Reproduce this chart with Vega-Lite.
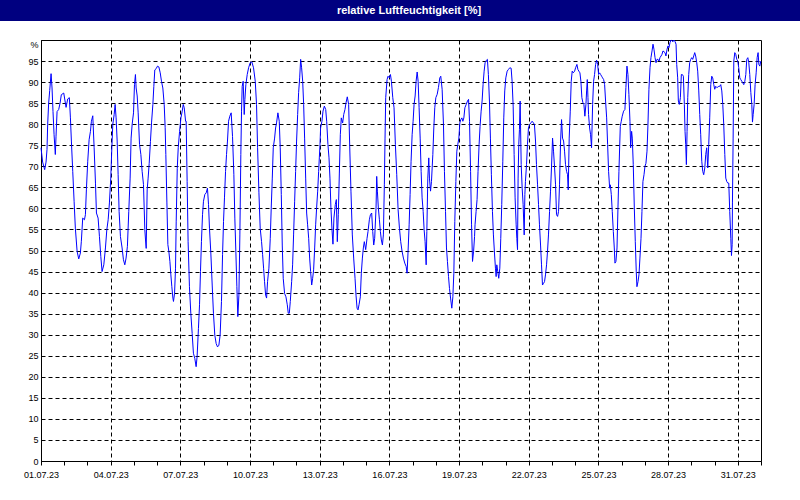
{
 "$schema": "https://vega.github.io/schema/vega-lite/v6.json",
 "background": "white",
 "padding": 0,
 "spacing": 16,
 "config": {"font": "Liberation Sans"},
 "vconcat": [
  {
   "width": 800, "height": 21,
   "view": {"fill": "#000080", "stroke": null},
   "data": {"values": [{}]},
   "mark": {"type": "text", "color": "white", "font": "Liberation Sans", "fontSize": 11, "fontWeight": "bold", "baseline": "middle", "align": "center", "dx": 9},
   "encoding": {"text": {"value": "relative Luftfeuchtigkeit [%]"}}
  },
  {
   "spacing": 0,
   "hconcat": [
    {
     "width": 1, "height": 421,
     "view": {"fill": null, "stroke": null},
     "data": {"values": [{}]},
     "mark": {"type": "text"},
     "encoding": {"text": {"value": ""}}
    },
    {
     "width": 720, "height": 421,
     "view": {"fill": "white", "stroke": "black", "strokeWidth": 1},
     "data": {"values": [
{"t":"2023-07-01T00:00","v":74.4},{"t":"2023-07-01T01:42","v":71},{"t":"2023-07-01T03:48","v":69.2},{"t":"2023-07-01T05:12","v":71},{"t":"2023-07-01T06:12","v":74},{"t":"2023-07-01T06:54","v":80},{"t":"2023-07-01T07:54","v":85},{"t":"2023-07-01T09:00","v":88},{"t":"2023-07-01T10:24","v":92},{"t":"2023-07-01T11:24","v":88.6},{"t":"2023-07-01T12:24","v":83},{"t":"2023-07-01T13:30","v":77.5},{"t":"2023-07-01T14:48","v":72.8},{"t":"2023-07-01T15:30","v":77},{"t":"2023-07-01T16:36","v":83},{"t":"2023-07-01T18:18","v":83.5},{"t":"2023-07-01T19:42","v":85},{"t":"2023-07-01T21:00","v":87},{"t":"2023-07-01T23:30","v":87.4},
{"t":"2023-07-02T01:12","v":85},{"t":"2023-07-02T01:54","v":84},{"t":"2023-07-02T03:36","v":86},{"t":"2023-07-02T05:18","v":86.3},{"t":"2023-07-02T06:24","v":81.5},{"t":"2023-07-02T07:24","v":76},{"t":"2023-07-02T08:48","v":68.8},{"t":"2023-07-02T10:12","v":61.7},{"t":"2023-07-02T11:30","v":55.3},{"t":"2023-07-02T13:18","v":49.8},{"t":"2023-07-02T15:00","v":48},{"t":"2023-07-02T16:42","v":49.4},{"t":"2023-07-02T17:42","v":52.2},{"t":"2023-07-02T19:06","v":57.7},{"t":"2023-07-02T20:54","v":57.3},{"t":"2023-07-02T21:54","v":58.5},{"t":"2023-07-02T22:54","v":64.4},
{"t":"2023-07-03T00:18","v":71.2},{"t":"2023-07-03T01:42","v":76.3},{"t":"2023-07-03T03:06","v":78.3},{"t":"2023-07-03T04:06","v":80.7},{"t":"2023-07-03T05:30","v":82},{"t":"2023-07-03T06:54","v":74.4},{"t":"2023-07-03T08:18","v":66},{"t":"2023-07-03T09:18","v":58.9},{"t":"2023-07-03T11:00","v":57.7},{"t":"2023-07-03T12:24","v":53.3},{"t":"2023-07-03T13:48","v":48.6},{"t":"2023-07-03T15:06","v":45},{"t":"2023-07-03T16:54","v":46.6},{"t":"2023-07-03T18:36","v":50.6},{"t":"2023-07-03T20:00","v":54.9},{"t":"2023-07-03T21:24","v":57.3},{"t":"2023-07-03T22:42","v":61.3},
{"t":"2023-07-04T00:06","v":67.2},{"t":"2023-07-04T01:12","v":74.4},{"t":"2023-07-04T02:12","v":80},{"t":"2023-07-04T03:36","v":82.3},{"t":"2023-07-04T04:36","v":84.7},{"t":"2023-07-04T05:36","v":81.5},{"t":"2023-07-04T06:42","v":76},{"t":"2023-07-04T07:42","v":68},{"t":"2023-07-04T08:42","v":59.3},{"t":"2023-07-04T10:06","v":53.3},{"t":"2023-07-04T11:48","v":50.6},{"t":"2023-07-04T13:12","v":47.8},{"t":"2023-07-04T14:36","v":46.6},{"t":"2023-07-04T15:54","v":48.2},{"t":"2023-07-04T17:18","v":51},{"t":"2023-07-04T18:42","v":59.3},{"t":"2023-07-04T20:06","v":67.2},{"t":"2023-07-04T21:06","v":76.7},{"t":"2023-07-04T22:12","v":80},{"t":"2023-07-04T23:36","v":82.7},
{"t":"2023-07-05T00:36","v":89.4},{"t":"2023-07-05T01:36","v":91.8},{"t":"2023-07-05T02:18","v":88.6},{"t":"2023-07-05T03:24","v":86.7},{"t":"2023-07-05T04:24","v":82.7},{"t":"2023-07-05T05:48","v":75.2},{"t":"2023-07-05T07:12","v":72.8},{"t":"2023-07-05T08:30","v":68.8},{"t":"2023-07-05T09:54","v":65.7},{"t":"2023-07-05T11:18","v":54.9},{"t":"2023-07-05T12:00","v":52.5},{"t":"2023-07-05T12:42","v":50.5},{"t":"2023-07-05T13:42","v":64.4},{"t":"2023-07-05T14:42","v":67.2},{"t":"2023-07-05T15:48","v":70.7},{"t":"2023-07-05T17:06","v":75.9},{"t":"2023-07-05T18:12","v":80.3},{"t":"2023-07-05T19:36","v":84.7},{"t":"2023-07-05T20:36","v":89},{"t":"2023-07-05T21:36","v":92.9},{"t":"2023-07-05T23:00","v":93.2},
{"t":"2023-07-06T00:24","v":93.8},{"t":"2023-07-06T01:48","v":93.6},{"t":"2023-07-06T03:12","v":92.2},{"t":"2023-07-06T04:30","v":90.2},{"t":"2023-07-06T05:54","v":88.6},{"t":"2023-07-06T07:18","v":84.7},{"t":"2023-07-06T08:18","v":79.2},{"t":"2023-07-06T09:00","v":72.8},{"t":"2023-07-06T10:06","v":61.3},{"t":"2023-07-06T11:06","v":51.4},{"t":"2023-07-06T12:06","v":49.8},{"t":"2023-07-06T13:12","v":47.4},{"t":"2023-07-06T14:12","v":44.2},{"t":"2023-07-06T15:12","v":41.4},{"t":"2023-07-06T16:18","v":38.7},{"t":"2023-07-06T16:54","v":37.9},{"t":"2023-07-06T18:00","v":39.8},{"t":"2023-07-06T19:00","v":45.8},{"t":"2023-07-06T19:42","v":56.8},{"t":"2023-07-06T20:48","v":69.5},{"t":"2023-07-06T21:48","v":74.4},{"t":"2023-07-06T23:12","v":78.3},
{"t":"2023-07-07T00:36","v":81.5},{"t":"2023-07-07T01:54","v":83.1},{"t":"2023-07-07T03:00","v":84.7},{"t":"2023-07-07T04:00","v":83.9},{"t":"2023-07-07T05:24","v":80.7},{"t":"2023-07-07T06:00","v":80.7},{"t":"2023-07-07T07:00","v":66.4},{"t":"2023-07-07T08:00","v":52.1},{"t":"2023-07-07T09:24","v":41.4},{"t":"2023-07-07T10:48","v":35.1},{"t":"2023-07-07T12:12","v":30.3},{"t":"2023-07-07T13:30","v":25.6},{"t":"2023-07-07T14:54","v":24.4},{"t":"2023-07-07T16:18","v":22.4},{"t":"2023-07-07T17:18","v":24.8},{"t":"2023-07-07T18:42","v":31.5},{"t":"2023-07-07T19:48","v":37.1},{"t":"2023-07-07T20:48","v":45},{"t":"2023-07-07T21:48","v":52.1},{"t":"2023-07-07T22:54","v":58.5},{"t":"2023-07-07T23:54","v":61.7},
{"t":"2023-07-08T01:18","v":63.3},{"t":"2023-07-08T02:42","v":63.7},{"t":"2023-07-08T04:00","v":64.8},{"t":"2023-07-08T05:06","v":60.9},{"t":"2023-07-08T06:06","v":55.3},{"t":"2023-07-08T07:30","v":49.4},{"t":"2023-07-08T08:54","v":41.8},{"t":"2023-07-08T10:12","v":35.1},{"t":"2023-07-08T11:36","v":29.9},{"t":"2023-07-08T13:00","v":27.9},{"t":"2023-07-08T14:24","v":27.1},{"t":"2023-07-08T15:48","v":27.5},{"t":"2023-07-08T17:06","v":29.9},{"t":"2023-07-08T18:30","v":37.9},{"t":"2023-07-08T19:36","v":49},{"t":"2023-07-08T20:36","v":56.9},{"t":"2023-07-08T21:36","v":62.5},{"t":"2023-07-08T22:42","v":68.8},{"t":"2023-07-08T23:42","v":72.8},
{"t":"2023-07-09T00:42","v":76},{"t":"2023-07-09T01:48","v":80.7},{"t":"2023-07-09T03:06","v":81.9},{"t":"2023-07-09T04:30","v":82.7},{"t":"2023-07-09T05:54","v":77.1},{"t":"2023-07-09T07:18","v":68},{"t":"2023-07-09T08:18","v":57.7},{"t":"2023-07-09T09:24","v":49.4},{"t":"2023-07-09T10:24","v":41.4},{"t":"2023-07-09T11:24","v":34.3},{"t":"2023-07-09T12:30","v":39.4},{"t":"2023-07-09T13:30","v":53.7},{"t":"2023-07-09T14:30","v":72.8},{"t":"2023-07-09T15:12","v":83.1},{"t":"2023-07-09T15:54","v":89},{"t":"2023-07-09T16:54","v":90.2},{"t":"2023-07-09T18:00","v":82.3},{"t":"2023-07-09T18:42","v":85.9},{"t":"2023-07-09T19:42","v":89.4},{"t":"2023-07-09T21:06","v":91.8},{"t":"2023-07-09T22:30","v":93.4},
{"t":"2023-07-10T00:12","v":94.6},{"t":"2023-07-10T01:54","v":94.8},{"t":"2023-07-10T03:36","v":93.4},{"t":"2023-07-10T05:24","v":90.2},{"t":"2023-07-10T06:42","v":84.7},{"t":"2023-07-10T07:48","v":74.4},{"t":"2023-07-10T09:12","v":63.7},{"t":"2023-07-10T10:30","v":55.3},{"t":"2023-07-10T11:54","v":52.1},{"t":"2023-07-10T13:00","v":49},{"t":"2023-07-10T14:00","v":45.8},{"t":"2023-07-10T15:00","v":42.6},{"t":"2023-07-10T16:06","v":39.4},{"t":"2023-07-10T17:06","v":38.7},{"t":"2023-07-10T18:06","v":42.6},{"t":"2023-07-10T19:30","v":45.8},{"t":"2023-07-10T20:54","v":52.9},{"t":"2023-07-10T21:54","v":60.1},{"t":"2023-07-10T23:00","v":67.2},
{"t":"2023-07-11T00:00","v":74.4},{"t":"2023-07-11T01:24","v":76.7},{"t":"2023-07-11T02:24","v":79.1},{"t":"2023-07-11T03:24","v":80.3},{"t":"2023-07-11T04:48","v":82.7},{"t":"2023-07-11T06:12","v":80.7},{"t":"2023-07-11T07:12","v":74.4},{"t":"2023-07-11T08:18","v":63.3},{"t":"2023-07-11T09:18","v":51.3},{"t":"2023-07-11T10:18","v":43.4},{"t":"2023-07-11T11:42","v":39.8},{"t":"2023-07-11T13:06","v":39},{"t":"2023-07-11T14:30","v":37.1},{"t":"2023-07-11T15:30","v":35.1},{"t":"2023-07-11T16:36","v":35.1},{"t":"2023-07-11T17:36","v":37.9},{"t":"2023-07-11T19:00","v":42.6},{"t":"2023-07-11T20:00","v":46.6},{"t":"2023-07-11T21:00","v":53.7},{"t":"2023-07-11T22:06","v":61.7},{"t":"2023-07-11T23:06","v":68.8},
{"t":"2023-07-12T00:06","v":76},{"t":"2023-07-12T01:12","v":82.3},{"t":"2023-07-12T02:12","v":87.5},{"t":"2023-07-12T03:18","v":91},{"t":"2023-07-12T04:18","v":95.4},{"t":"2023-07-12T05:18","v":93.4},{"t":"2023-07-12T06:24","v":90.2},{"t":"2023-07-12T07:24","v":84.7},{"t":"2023-07-12T08:24","v":76.7},{"t":"2023-07-12T09:30","v":67.2},{"t":"2023-07-12T10:30","v":58.9},{"t":"2023-07-12T11:30","v":56.1},{"t":"2023-07-12T12:36","v":52.9},{"t":"2023-07-12T13:36","v":48.2},{"t":"2023-07-12T14:36","v":45},{"t":"2023-07-12T15:42","v":41.8},{"t":"2023-07-12T16:42","v":43.4},{"t":"2023-07-12T17:42","v":45.4},{"t":"2023-07-12T18:48","v":50.6},{"t":"2023-07-12T19:48","v":56.1},{"t":"2023-07-12T20:48","v":60.1},{"t":"2023-07-12T21:54","v":64.1},{"t":"2023-07-12T22:54","v":68.8},{"t":"2023-07-12T23:36","v":72},
{"t":"2023-07-13T00:18","v":75.2},{"t":"2023-07-13T00:54","v":79.1},{"t":"2023-07-13T02:18","v":80.7},{"t":"2023-07-13T03:24","v":83.1},{"t":"2023-07-13T04:48","v":84.3},{"t":"2023-07-13T06:12","v":83.5},{"t":"2023-07-13T07:12","v":80.7},{"t":"2023-07-13T08:30","v":75.2},{"t":"2023-07-13T09:36","v":72},{"t":"2023-07-13T10:36","v":67.2},{"t":"2023-07-13T11:36","v":60.1},{"t":"2023-07-13T12:42","v":54.9},{"t":"2023-07-13T13:42","v":51.5},{"t":"2023-07-13T14:42","v":57.7},{"t":"2023-07-13T16:06","v":60.9},{"t":"2023-07-13T17:12","v":62.1},{"t":"2023-07-13T18:12","v":52.1},{"t":"2023-07-13T19:12","v":58.5},{"t":"2023-07-13T20:18","v":68.4},{"t":"2023-07-13T21:18","v":77.5},{"t":"2023-07-13T22:18","v":81.5},{"t":"2023-07-13T23:42","v":80.3},
{"t":"2023-07-14T00:48","v":82.3},{"t":"2023-07-14T02:06","v":83.5},{"t":"2023-07-14T03:12","v":85.1},{"t":"2023-07-14T04:30","v":86.5},{"t":"2023-07-14T05:54","v":84.7},{"t":"2023-07-14T07:00","v":74.8},{"t":"2023-07-14T08:18","v":64.1},{"t":"2023-07-14T09:42","v":53.7},{"t":"2023-07-14T11:06","v":48.2},{"t":"2023-07-14T12:30","v":43.4},{"t":"2023-07-14T13:30","v":39.4},{"t":"2023-07-14T14:36","v":36.3},{"t":"2023-07-14T15:36","v":35.9},{"t":"2023-07-14T16:36","v":37.1},{"t":"2023-07-14T18:00","v":39},{"t":"2023-07-14T19:00","v":44.6},{"t":"2023-07-14T20:06","v":48.2},{"t":"2023-07-14T21:06","v":50.6},{"t":"2023-07-14T22:06","v":52.1},{"t":"2023-07-14T23:30","v":50.2},
{"t":"2023-07-15T00:54","v":52.9},{"t":"2023-07-15T01:54","v":54.5},{"t":"2023-07-15T03:18","v":57.3},{"t":"2023-07-15T04:24","v":58.5},{"t":"2023-07-15T05:42","v":58.9},{"t":"2023-07-15T06:48","v":54.5},{"t":"2023-07-15T07:48","v":51.3},{"t":"2023-07-15T08:48","v":52.9},{"t":"2023-07-15T10:12","v":60.1},{"t":"2023-07-15T10:54","v":67.6},{"t":"2023-07-15T11:36","v":64.1},{"t":"2023-07-15T12:36","v":60.1},{"t":"2023-07-15T13:42","v":57.3},{"t":"2023-07-15T14:42","v":54.5},{"t":"2023-07-15T15:42","v":52.5},{"t":"2023-07-15T16:48","v":51.3},{"t":"2023-07-15T17:48","v":53.7},{"t":"2023-07-15T18:48","v":65.6},{"t":"2023-07-15T19:30","v":76.7},{"t":"2023-07-15T20:12","v":86.3},{"t":"2023-07-15T21:36","v":90.6},{"t":"2023-07-15T22:36","v":91.4},
{"t":"2023-07-16T00:00","v":91},{"t":"2023-07-16T01:06","v":91.8},{"t":"2023-07-16T02:06","v":90.2},{"t":"2023-07-16T03:30","v":86.3},{"t":"2023-07-16T04:48","v":83.9},{"t":"2023-07-16T06:12","v":75.2},{"t":"2023-07-16T07:36","v":68},{"t":"2023-07-16T09:00","v":59.7},{"t":"2023-07-16T10:24","v":55.3},{"t":"2023-07-16T11:42","v":52.1},{"t":"2023-07-16T13:06","v":49.8},{"t":"2023-07-16T14:30","v":48.2},{"t":"2023-07-16T15:54","v":47},{"t":"2023-07-16T17:18","v":46.2},{"t":"2023-07-16T18:18","v":44.6},{"t":"2023-07-16T19:18","v":49.8},{"t":"2023-07-16T20:24","v":56.1},{"t":"2023-07-16T21:24","v":63.3},{"t":"2023-07-16T22:24","v":71.2},{"t":"2023-07-16T23:30","v":77.5},
{"t":"2023-07-17T00:30","v":80.7},{"t":"2023-07-17T01:30","v":84.7},{"t":"2023-07-17T02:36","v":86.7},{"t":"2023-07-17T03:36","v":90.2},{"t":"2023-07-17T04:42","v":92.4},{"t":"2023-07-17T05:42","v":90.2},{"t":"2023-07-17T06:42","v":83.9},{"t":"2023-07-17T07:48","v":76.7},{"t":"2023-07-17T08:48","v":68.8},{"t":"2023-07-17T09:48","v":62.5},{"t":"2023-07-17T10:54","v":59.3},{"t":"2023-07-17T11:54","v":54.9},{"t":"2023-07-17T12:54","v":52.1},{"t":"2023-07-17T14:00","v":46.6},{"t":"2023-07-17T14:42","v":54.5},{"t":"2023-07-17T15:42","v":67.2},{"t":"2023-07-17T16:42","v":72},{"t":"2023-07-17T17:24","v":67.2},{"t":"2023-07-17T18:30","v":64.1},{"t":"2023-07-17T19:30","v":66.4},{"t":"2023-07-17T20:54","v":72.8},{"t":"2023-07-17T21:54","v":79.1},{"t":"2023-07-17T22:54","v":83.9},
{"t":"2023-07-18T00:00","v":86.3},{"t":"2023-07-18T01:24","v":87.1},{"t":"2023-07-18T02:42","v":88.7},{"t":"2023-07-18T04:06","v":91},{"t":"2023-07-18T05:06","v":91.4},{"t":"2023-07-18T06:30","v":88.3},{"t":"2023-07-18T07:54","v":79.9},{"t":"2023-07-18T08:54","v":68.8},{"t":"2023-07-18T10:00","v":59.3},{"t":"2023-07-18T11:00","v":50.6},{"t":"2023-07-18T12:00","v":47.4},{"t":"2023-07-18T13:06","v":43.8},{"t":"2023-07-18T14:06","v":41},{"t":"2023-07-18T15:12","v":38.7},{"t":"2023-07-18T16:30","v":36.3},{"t":"2023-07-18T17:36","v":39},{"t":"2023-07-18T18:36","v":44.6},{"t":"2023-07-18T19:36","v":56.9},{"t":"2023-07-18T20:42","v":66.4},{"t":"2023-07-18T21:42","v":73.6},{"t":"2023-07-18T22:42","v":75.2},{"t":"2023-07-18T23:48","v":76.7},
{"t":"2023-07-19T00:48","v":80.3},{"t":"2023-07-19T01:48","v":81.1},{"t":"2023-07-19T02:54","v":81.5},{"t":"2023-07-19T03:54","v":80.7},{"t":"2023-07-19T04:57","v":81.5},{"t":"2023-07-19T06:00","v":83.9},{"t":"2023-07-19T07:24","v":84.7},{"t":"2023-07-19T08:42","v":85.5},{"t":"2023-07-19T09:48","v":85.9},{"t":"2023-07-19T10:48","v":80.7},{"t":"2023-07-19T11:54","v":68.8},{"t":"2023-07-19T12:54","v":56.1},{"t":"2023-07-19T13:54","v":47.4},{"t":"2023-07-19T15:00","v":49.8},{"t":"2023-07-19T16:00","v":53.3},{"t":"2023-07-19T16:30","v":56.1},{"t":"2023-07-19T17:36","v":59.3},{"t":"2023-07-19T18:36","v":62.1},{"t":"2023-07-19T19:36","v":68.8},{"t":"2023-07-19T20:42","v":75.2},{"t":"2023-07-19T21:42","v":79.5},{"t":"2023-07-19T22:48","v":83.1},{"t":"2023-07-19T23:48","v":85.5},
{"t":"2023-07-20T00:48","v":89.4},{"t":"2023-07-20T01:54","v":92.6},{"t":"2023-07-20T02:54","v":94.6},{"t":"2023-07-20T04:18","v":95.2},{"t":"2023-07-20T05:18","v":95.4},{"t":"2023-07-20T06:18","v":91.8},{"t":"2023-07-20T07:24","v":85.5},{"t":"2023-07-20T08:24","v":76.7},{"t":"2023-07-20T09:24","v":68},{"t":"2023-07-20T10:30","v":59.3},{"t":"2023-07-20T11:30","v":53.7},{"t":"2023-07-20T12:36","v":49.4},{"t":"2023-07-20T13:36","v":45.8},{"t":"2023-07-20T14:18","v":43.8},{"t":"2023-07-20T15:00","v":46.6},{"t":"2023-07-20T16:00","v":45},{"t":"2023-07-20T17:00","v":43.4},{"t":"2023-07-20T18:06","v":45.8},{"t":"2023-07-20T19:06","v":52.9},{"t":"2023-07-20T20:06","v":60.9},{"t":"2023-07-20T21:12","v":71.2},{"t":"2023-07-20T22:12","v":81.5},{"t":"2023-07-20T23:12","v":87.9},
{"t":"2023-07-21T00:18","v":91},{"t":"2023-07-21T01:42","v":92.6},{"t":"2023-07-21T03:00","v":93},{"t":"2023-07-21T04:24","v":93.4},{"t":"2023-07-21T05:48","v":93.3},{"t":"2023-07-21T06:48","v":90.2},{"t":"2023-07-21T07:54","v":84.3},{"t":"2023-07-21T08:54","v":72.8},{"t":"2023-07-21T09:54","v":62.5},{"t":"2023-07-21T11:00","v":56.1},{"t":"2023-07-21T11:42","v":52.9},{"t":"2023-07-21T12:24","v":50.2},{"t":"2023-07-21T13:00","v":67.2},{"t":"2023-07-21T13:42","v":75.2},{"t":"2023-07-21T14:24","v":78.7},{"t":"2023-07-21T15:06","v":85.5},{"t":"2023-07-21T16:12","v":70.4},{"t":"2023-07-21T17:12","v":64.8},{"t":"2023-07-21T18:12","v":60.9},{"t":"2023-07-21T19:18","v":53.7},{"t":"2023-07-21T20:00","v":63.3},{"t":"2023-07-21T20:36","v":66.4},{"t":"2023-07-21T21:42","v":70.4},{"t":"2023-07-21T22:42","v":75.2},{"t":"2023-07-21T23:42","v":79.1},
{"t":"2023-07-22T00:48","v":79.9},{"t":"2023-07-22T02:12","v":80.3},{"t":"2023-07-22T03:30","v":80.7},{"t":"2023-07-22T04:54","v":80.3},{"t":"2023-07-22T05:54","v":79.9},{"t":"2023-07-22T07:00","v":76},{"t":"2023-07-22T08:00","v":70.4},{"t":"2023-07-22T09:06","v":65.6},{"t":"2023-07-22T10:06","v":60.9},{"t":"2023-07-22T11:06","v":56.1},{"t":"2023-07-22T12:12","v":51.3},{"t":"2023-07-22T13:12","v":46.6},{"t":"2023-07-22T14:12","v":41.8},{"t":"2023-07-22T15:18","v":42.2},{"t":"2023-07-22T16:18","v":42.6},{"t":"2023-07-22T17:18","v":44.2},{"t":"2023-07-22T18:24","v":46.6},{"t":"2023-07-22T19:24","v":49.8},{"t":"2023-07-22T20:24","v":53.7},{"t":"2023-07-22T21:30","v":59.3},{"t":"2023-07-22T22:30","v":64.1},{"t":"2023-07-22T23:30","v":69.6},
{"t":"2023-07-23T00:36","v":76.7},{"t":"2023-07-23T01:36","v":73.6},{"t":"2023-07-23T02:42","v":69.6},{"t":"2023-07-23T03:42","v":65.6},{"t":"2023-07-23T04:42","v":58.5},{"t":"2023-07-23T05:48","v":58.1},{"t":"2023-07-23T06:48","v":59.3},{"t":"2023-07-23T07:48","v":65.6},{"t":"2023-07-23T08:54","v":76},{"t":"2023-07-23T09:54","v":81.1},{"t":"2023-07-23T10:54","v":76.7},{"t":"2023-07-23T12:00","v":76},{"t":"2023-07-23T13:00","v":73.6},{"t":"2023-07-23T14:00","v":70.4},{"t":"2023-07-23T15:06","v":68.8},{"t":"2023-07-23T16:06","v":68},{"t":"2023-07-23T16:48","v":64.4},{"t":"2023-07-23T17:48","v":76.7},{"t":"2023-07-23T18:54","v":83.1},{"t":"2023-07-23T19:54","v":90.2},{"t":"2023-07-23T20:54","v":92.6},{"t":"2023-07-23T22:00","v":92.2},{"t":"2023-07-23T23:24","v":92.6},
{"t":"2023-07-24T00:24","v":93.4},{"t":"2023-07-24T01:48","v":94.2},{"t":"2023-07-24T02:48","v":93},{"t":"2023-07-24T03:48","v":92.6},{"t":"2023-07-24T04:54","v":92.2},{"t":"2023-07-24T05:54","v":90.2},{"t":"2023-07-24T06:54","v":86.3},{"t":"2023-07-24T08:00","v":85.1},{"t":"2023-07-24T09:00","v":84.7},{"t":"2023-07-24T10:00","v":81.9},{"t":"2023-07-24T11:06","v":84.7},{"t":"2023-07-24T11:48","v":87.9},{"t":"2023-07-24T12:30","v":90.6},{"t":"2023-07-24T13:12","v":86.3},{"t":"2023-07-24T13:48","v":82.3},{"t":"2023-07-24T14:54","v":79.1},{"t":"2023-07-24T15:54","v":77.5},{"t":"2023-07-24T16:54","v":74.4},{"t":"2023-07-24T18:00","v":84.7},{"t":"2023-07-24T19:00","v":90.2},{"t":"2023-07-24T20:00","v":91.8},{"t":"2023-07-24T21:06","v":94.2},{"t":"2023-07-24T22:06","v":95.2},{"t":"2023-07-24T23:12","v":94.2},
{"t":"2023-07-25T00:12","v":91.8},{"t":"2023-07-25T01:12","v":92.2},{"t":"2023-07-25T02:18","v":91.8},{"t":"2023-07-25T03:18","v":91.4},{"t":"2023-07-25T04:18","v":91},{"t":"2023-07-25T05:24","v":90.6},{"t":"2023-07-25T06:24","v":89.4},{"t":"2023-07-25T07:24","v":85.5},{"t":"2023-07-25T08:30","v":81.5},{"t":"2023-07-25T09:30","v":75.2},{"t":"2023-07-25T10:30","v":68.8},{"t":"2023-07-25T11:36","v":64.8},{"t":"2023-07-25T12:18","v":65.6},{"t":"2023-07-25T13:18","v":63.3},{"t":"2023-07-25T14:18","v":59.3},{"t":"2023-07-25T15:24","v":54.5},{"t":"2023-07-25T16:24","v":50.6},{"t":"2023-07-25T17:06","v":47},{"t":"2023-07-25T18:06","v":47.4},{"t":"2023-07-25T19:12","v":50.6},{"t":"2023-07-25T20:12","v":60.1},{"t":"2023-07-25T21:12","v":68.8},{"t":"2023-07-25T22:36","v":79.5},{"t":"2023-07-25T23:36","v":80.7},
{"t":"2023-07-26T00:36","v":81.9},{"t":"2023-07-26T02:00","v":83.1},{"t":"2023-07-26T03:24","v":83.5},{"t":"2023-07-26T04:24","v":88.7},{"t":"2023-07-26T05:30","v":93.8},{"t":"2023-07-26T06:30","v":91.8},{"t":"2023-07-26T07:30","v":87.1},{"t":"2023-07-26T08:36","v":80.7},{"t":"2023-07-26T09:18","v":74.4},{"t":"2023-07-26T10:18","v":78.3},{"t":"2023-07-26T11:00","v":76.7},{"t":"2023-07-26T12:00","v":70.4},{"t":"2023-07-26T13:06","v":60.1},{"t":"2023-07-26T14:06","v":52.1},{"t":"2023-07-26T15:06","v":45},{"t":"2023-07-26T15:48","v":41.4},{"t":"2023-07-26T16:54","v":42.6},{"t":"2023-07-26T17:54","v":44.2},{"t":"2023-07-26T18:54","v":48.2},{"t":"2023-07-26T20:00","v":52.9},{"t":"2023-07-26T21:00","v":59.3},{"t":"2023-07-26T22:00","v":66.4},{"t":"2023-07-26T23:06","v":68},
{"t":"2023-07-27T00:06","v":70},{"t":"2023-07-27T01:06","v":70.7},{"t":"2023-07-27T02:12","v":73.6},{"t":"2023-07-27T03:12","v":79.9},{"t":"2023-07-27T04:12","v":88.3},{"t":"2023-07-27T05:18","v":93.4},{"t":"2023-07-27T06:18","v":95.8},{"t":"2023-07-27T07:24","v":97.4},{"t":"2023-07-27T08:24","v":99},{"t":"2023-07-27T09:24","v":97.8},{"t":"2023-07-27T10:30","v":95.8},{"t":"2023-07-27T11:30","v":94.6},{"t":"2023-07-27T12:30","v":95.4},{"t":"2023-07-27T13:36","v":95.4},{"t":"2023-07-27T14:36","v":95},{"t":"2023-07-27T15:36","v":95.8},{"t":"2023-07-27T16:42","v":96.2},{"t":"2023-07-27T17:42","v":96.6},{"t":"2023-07-27T18:42","v":97.4},{"t":"2023-07-27T19:48","v":97.2},{"t":"2023-07-27T20:48","v":97},{"t":"2023-07-27T21:48","v":96.2},{"t":"2023-07-27T22:54","v":97.8},{"t":"2023-07-27T23:54","v":98.6},
{"t":"2023-07-28T00:54","v":98.2},{"t":"2023-07-28T02:00","v":99.4},{"t":"2023-07-28T03:00","v":100},{"t":"2023-07-28T04:00","v":99.8},{"t":"2023-07-28T05:06","v":99.6},{"t":"2023-07-28T06:06","v":100},{"t":"2023-07-28T07:12","v":99.6},{"t":"2023-07-28T08:12","v":99},{"t":"2023-07-28T08:54","v":94.2},{"t":"2023-07-28T09:54","v":91},{"t":"2023-07-28T10:36","v":85.5},{"t":"2023-07-28T11:36","v":84.7},{"t":"2023-07-28T12:42","v":86.3},{"t":"2023-07-28T13:42","v":91.8},{"t":"2023-07-28T14:42","v":91.8},{"t":"2023-07-28T15:48","v":91.4},{"t":"2023-07-28T16:48","v":84.7},{"t":"2023-07-28T17:30","v":78.3},{"t":"2023-07-28T18:12","v":75.2},{"t":"2023-07-28T18:54","v":70.4},{"t":"2023-07-28T19:36","v":78.3},{"t":"2023-07-28T20:18","v":86.3},{"t":"2023-07-28T21:18","v":91.8},{"t":"2023-07-28T22:18","v":94.6},{"t":"2023-07-28T23:24","v":95.4},
{"t":"2023-07-29T00:24","v":95.8},{"t":"2023-07-29T01:24","v":95.4},{"t":"2023-07-29T02:30","v":96.2},{"t":"2023-07-29T03:30","v":97},{"t":"2023-07-29T04:30","v":96.2},{"t":"2023-07-29T05:36","v":94.6},{"t":"2023-07-29T06:36","v":92.6},{"t":"2023-07-29T07:42","v":87.9},{"t":"2023-07-29T08:42","v":82.3},{"t":"2023-07-29T09:42","v":77.5},{"t":"2023-07-29T10:48","v":71.2},{"t":"2023-07-29T11:48","v":68.8},{"t":"2023-07-29T12:48","v":68},{"t":"2023-07-29T13:54","v":69.6},{"t":"2023-07-29T14:54","v":72.8},{"t":"2023-07-29T15:54","v":74.4},{"t":"2023-07-29T17:00","v":69.6},{"t":"2023-07-29T18:00","v":75.2},{"t":"2023-07-29T19:00","v":81.5},{"t":"2023-07-29T20:06","v":89.4},{"t":"2023-07-29T21:06","v":91.4},{"t":"2023-07-29T22:06","v":91},{"t":"2023-07-29T23:12","v":89.4},
{"t":"2023-07-30T00:12","v":88.3},{"t":"2023-07-30T01:12","v":89},{"t":"2023-07-30T02:18","v":88.7},{"t":"2023-07-30T03:18","v":88.8},{"t":"2023-07-30T04:24","v":89},{"t":"2023-07-30T05:24","v":89},{"t":"2023-07-30T06:24","v":89.4},{"t":"2023-07-30T07:30","v":87.9},{"t":"2023-07-30T08:30","v":84.7},{"t":"2023-07-30T09:30","v":79.9},{"t":"2023-07-30T10:36","v":72.8},{"t":"2023-07-30T11:36","v":67.2},{"t":"2023-07-30T12:36","v":66.4},{"t":"2023-07-30T13:42","v":66},{"t":"2023-07-30T14:42","v":66},{"t":"2023-07-30T15:42","v":59.3},{"t":"2023-07-30T16:48","v":52.9},{"t":"2023-07-30T17:30","v":48.8},{"t":"2023-07-30T18:12","v":51.4},{"t":"2023-07-30T18:30","v":61.3},{"t":"2023-07-30T19:12","v":76.7},{"t":"2023-07-30T19:54","v":95},{"t":"2023-07-30T20:54","v":97},{"t":"2023-07-30T21:54","v":96.6},{"t":"2023-07-30T23:00","v":95.4},
{"t":"2023-07-31T00:00","v":95},{"t":"2023-07-31T01:00","v":93.4},{"t":"2023-07-31T02:06","v":91},{"t":"2023-07-31T03:06","v":90.6},{"t":"2023-07-31T04:12","v":90.2},{"t":"2023-07-31T05:12","v":89.8},{"t":"2023-07-31T06:12","v":89.4},{"t":"2023-07-31T07:18","v":90.2},{"t":"2023-07-31T08:18","v":91.8},{"t":"2023-07-31T09:18","v":95.4},{"t":"2023-07-31T10:24","v":95.8},{"t":"2023-07-31T11:24","v":94.6},{"t":"2023-07-31T12:24","v":91.8},{"t":"2023-07-31T13:30","v":87.5},{"t":"2023-07-31T14:30","v":84.7},{"t":"2023-07-31T15:12","v":80.5},{"t":"2023-07-31T15:54","v":82.3},{"t":"2023-07-31T16:54","v":84.7},{"t":"2023-07-31T17:54","v":89.4},{"t":"2023-07-31T19:00","v":92.2},{"t":"2023-07-31T20:00","v":95.8},{"t":"2023-07-31T21:00","v":97},{"t":"2023-07-31T21:48","v":94.2},{"t":"2023-07-31T22:48","v":93.8},{"t":"2023-07-31T23:48","v":95}
     ]},
     "mark": {"type": "line", "color": "#0000ff", "strokeWidth": 1},
     "encoding": {
      "x": {
       "field": "t", "type": "temporal",
       "scale": {"domain": [{"year": 2023, "month": 7, "date": 1}, {"year": 2023, "month": 8, "date": 1}], "nice": false},
       "axis": {
        "title": null,
        "values": [
         {"year": 2023, "month": 7, "date": 1}, {"year": 2023, "month": 7, "date": 2}, {"year": 2023, "month": 7, "date": 3}, {"year": 2023, "month": 7, "date": 4}, {"year": 2023, "month": 7, "date": 5}, {"year": 2023, "month": 7, "date": 6}, {"year": 2023, "month": 7, "date": 7}, {"year": 2023, "month": 7, "date": 8}, {"year": 2023, "month": 7, "date": 9}, {"year": 2023, "month": 7, "date": 10}, {"year": 2023, "month": 7, "date": 11}, {"year": 2023, "month": 7, "date": 12}, {"year": 2023, "month": 7, "date": 13}, {"year": 2023, "month": 7, "date": 14}, {"year": 2023, "month": 7, "date": 15}, {"year": 2023, "month": 7, "date": 16}, {"year": 2023, "month": 7, "date": 17}, {"year": 2023, "month": 7, "date": 18}, {"year": 2023, "month": 7, "date": 19}, {"year": 2023, "month": 7, "date": 20}, {"year": 2023, "month": 7, "date": 21}, {"year": 2023, "month": 7, "date": 22}, {"year": 2023, "month": 7, "date": 23}, {"year": 2023, "month": 7, "date": 24}, {"year": 2023, "month": 7, "date": 25}, {"year": 2023, "month": 7, "date": 26}, {"year": 2023, "month": 7, "date": 27}, {"year": 2023, "month": 7, "date": 28}, {"year": 2023, "month": 7, "date": 29}, {"year": 2023, "month": 7, "date": 30}, {"year": 2023, "month": 7, "date": 31}, {"year": 2023, "month": 8, "date": 1}
        ],
        "labelExpr": "month(datum.value) == 6 && (date(datum.value) - 1) % 3 == 0 ? timeFormat(datum.value, '%d.%m.%y') : ''",
        "labelFont": "Liberation Sans", "labelFontSize": 9, "labelColor": "black",
        "labelPadding": 5, "labelFlush": false, "labelOverlap": false, "labelBound": false,
        "tickSize": 4, "tickColor": "black", "tickWidth": 1,
        "domainColor": "black", "domainWidth": 1,
        "grid": true, "gridColor": "black", "gridDash": [4, 3], "gridWidth": 1,
        "gridOpacity": {"condition": {"test": "month(datum.value) == 6 && (date(datum.value) - 1) % 3 == 0 && date(datum.value) > 1", "value": 1}, "value": 0}
       }
      },
      "y": {
       "field": "v", "type": "quantitative",
       "scale": {"domain": [0, 100], "nice": false},
       "axis": {
        "title": null,
        "values": [0, 5, 10, 15, 20, 25, 30, 35, 40, 45, 50, 55, 60, 65, 70, 75, 80, 85, 90, 95, 100],
        "labelExpr": "datum.value == 100 ? '%' : datum.label",
        "labelBaseline": {"condition": {"test": "datum.value == 100", "value": "top"}, "value": "middle"},
        "labelFont": "Liberation Sans", "labelFontSize": 9, "labelColor": "black",
        "labelPadding": 3, "labelFlush": false, "labelOverlap": false,
        "ticks": false, "minExtent": 39,
        "domainColor": "black", "domainWidth": 1,
        "grid": true, "gridColor": "black", "gridDash": [4, 3], "gridWidth": 1, "gridOpacity": 1
       }
      }
     }
    }
   ]
  }
 ]
}
